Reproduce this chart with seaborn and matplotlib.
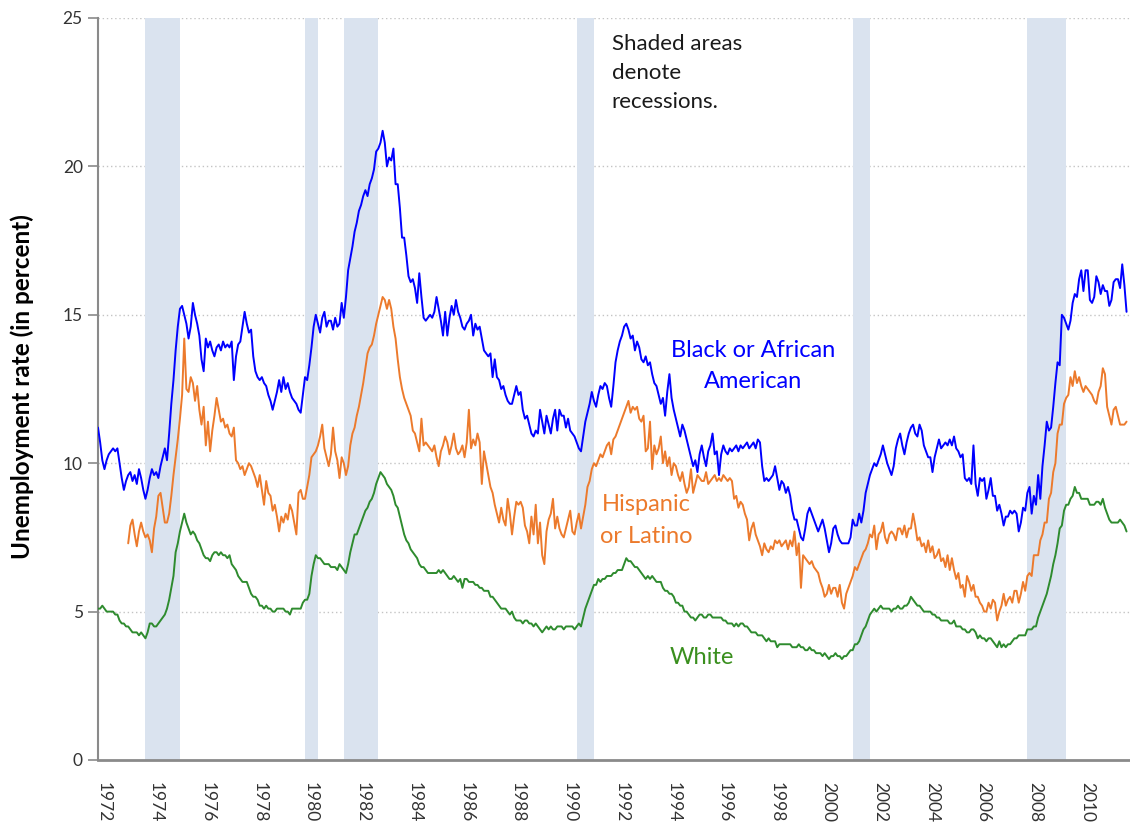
import matplotlib
matplotlib.use("Agg")
import matplotlib.pyplot as plt
import numpy as np
import pandas as pd
import seaborn as sns

# Monthly unemployment rates (percent), seasonally adjusted
# black and white: Jan 1972 - Oct 2011, hispanic: Mar 1973 - Oct 2011
black = [
    11.2, 10.7, 10.1, 9.8, 10.1, 10.3, 10.4, 10.5, 10.4, 10.5, 10.0, 9.5,   # 1972
    9.1, 9.4, 9.6, 9.7, 9.4, 9.6, 9.3, 9.8, 9.5, 9.1, 8.8, 9.1,            # 1973
    9.5, 9.8, 9.6, 9.7, 9.5, 9.9, 10.2, 10.5, 10.1, 11.0, 12.0, 12.8,      # 1974
    13.8, 14.6, 15.2, 15.3, 15.0, 14.7, 14.2, 14.6, 15.4, 15.0, 14.7, 14.3,  # 1975
    13.5, 13.1, 14.2, 13.9, 14.1, 13.8, 13.6, 13.9, 14.0, 13.8, 14.1, 13.9,  # 1976
    14.0, 13.9, 14.1, 12.8, 13.6, 14.0, 14.1, 14.6, 15.1, 14.7, 14.4, 14.5,  # 1977
    13.6, 13.1, 12.9, 12.8, 12.9, 12.7, 12.6, 12.3, 12.1, 11.8, 12.1, 12.4,  # 1978
    12.8, 12.4, 12.9, 12.5, 12.7, 12.4, 12.2, 12.1, 12.0, 11.8, 11.7, 12.3,  # 1979
    12.9, 12.8, 13.3, 13.9, 14.6, 15.0, 14.7, 14.4, 14.9, 15.1, 14.6, 14.8,  # 1980
    14.8, 14.5, 14.9, 14.6, 14.7, 15.4, 14.9, 15.6, 16.5, 16.9, 17.3, 17.8,  # 1981
    18.1, 18.5, 18.7, 19.0, 19.2, 19.0, 19.4, 19.6, 19.9, 20.5, 20.6, 20.8,  # 1982
    21.2, 20.8, 20.0, 20.3, 20.2, 20.6, 19.4, 19.4, 18.6, 17.6, 17.6, 17.0,  # 1983
    16.3, 16.1, 16.2, 15.9, 15.4, 16.4, 15.6, 14.9, 14.8, 14.9, 15.0, 14.9,  # 1984
    15.1, 15.6, 15.2, 14.8, 14.3, 15.1, 14.3, 14.9, 15.3, 15.0, 15.5, 15.1,  # 1985
    14.9, 14.6, 14.5, 14.7, 14.8, 15.0, 14.3, 14.7, 14.5, 14.6, 14.2, 13.8,  # 1986
    13.7, 13.6, 13.7, 12.9, 13.5, 12.9, 12.8, 12.5, 12.6, 12.3, 12.1, 12.0,  # 1987
    12.0, 12.3, 12.6, 12.3, 12.4, 11.8, 11.5, 11.6, 11.3, 11.0, 10.9, 11.1,  # 1988
    11.0, 11.8, 11.4, 11.0, 11.6, 11.3, 11.0, 11.5, 11.8, 11.1, 11.8, 11.6,  # 1989
    11.6, 11.2, 11.5, 11.1, 11.0, 10.9, 10.7, 10.5, 10.4, 10.9, 11.4, 11.7,  # 1990
    12.0, 12.4, 12.1, 11.9, 12.3, 12.6, 12.5, 12.7, 12.6, 12.2, 11.9, 12.6,  # 1991
    13.4, 13.8, 14.1, 14.3, 14.6, 14.7, 14.5, 14.2, 14.3, 13.8, 14.1, 13.9,  # 1992
    13.5, 13.4, 13.6, 13.3, 13.4, 13.0, 12.7, 12.6, 12.3, 12.0, 12.2, 11.6,  # 1993
    12.4, 13.0, 12.2, 11.8, 11.5, 11.2, 10.9, 11.3, 11.1, 10.8, 10.5, 10.2,  # 1994
    9.9, 10.1, 9.7, 10.3, 10.6, 10.2, 9.9, 10.4, 10.6, 11.0, 10.3, 10.4,     # 1995
    9.6, 10.3, 10.6, 10.4, 10.3, 10.5, 10.4, 10.5, 10.6, 10.4, 10.6, 10.5,   # 1996
    10.6, 10.7, 10.5, 10.6, 10.7, 10.5, 10.8, 10.7, 9.9, 9.4, 9.5, 9.4,     # 1997
    9.5, 9.6, 9.9, 9.5, 9.1, 9.4, 9.3, 9.0, 9.2, 8.9, 8.4, 8.1,             # 1998
    8.1, 7.8, 7.5, 7.4, 7.8, 8.3, 8.5, 8.3, 8.1, 7.9, 7.7, 7.9,             # 1999
    8.1, 7.8, 7.4, 7.0, 7.3, 7.8, 7.9, 7.6, 7.4, 7.3, 7.3, 7.3,             # 2000
    7.3, 7.5, 8.1, 7.9, 7.9, 8.3, 8.0, 8.4, 9.0, 9.3, 9.6, 9.8,             # 2001
    10.0, 9.9, 10.1, 10.3, 10.6, 10.3, 10.0, 9.8, 9.6, 9.9, 10.5, 10.8,     # 2002
    11.0, 10.6, 10.3, 10.7, 11.0, 11.2, 11.3, 11.0, 10.9, 11.3, 11.1, 10.6,  # 2003
    10.4, 10.2, 10.2, 9.7, 10.2, 10.5, 10.8, 10.5, 10.6, 10.7, 10.6, 10.8,   # 2004
    10.6, 10.9, 10.5, 10.4, 10.2, 10.3, 9.5, 9.4, 9.5, 9.3, 10.6, 9.3,      # 2005
    8.9, 9.5, 9.4, 9.5, 8.8, 9.1, 9.5, 8.9, 8.9, 8.4, 8.6, 8.3,             # 2006
    7.9, 8.2, 8.2, 8.4, 8.3, 8.4, 8.3, 7.7, 8.0, 8.5, 8.4, 9.0,             # 2007
    9.2, 8.3, 8.9, 8.6, 9.6, 8.8, 9.9, 10.6, 11.4, 11.1, 11.2, 11.9,        # 2008
    12.7, 13.4, 13.3, 15.0, 14.9, 14.7, 14.5, 14.8, 15.4, 15.7, 15.6, 16.2,  # 2009
    16.5, 15.8, 16.5, 16.5, 15.5, 15.4, 15.6, 16.3, 16.1, 15.7, 16.0, 15.8,  # 2010
    15.8, 15.3, 15.5, 16.1, 16.2, 16.2, 15.9, 16.7, 16.0, 15.1,             # 2011
]

white = [
    5.1, 5.1, 5.2, 5.1, 5.0, 5.0, 5.0, 5.0, 4.9, 4.9, 4.7, 4.6,   # 1972
    4.6, 4.5, 4.5, 4.4, 4.3, 4.3, 4.3, 4.2, 4.3, 4.2, 4.1, 4.3,   # 1973
    4.6, 4.6, 4.5, 4.5, 4.6, 4.7, 4.8, 4.9, 5.1, 5.4, 5.8, 6.2,   # 1974
    7.0, 7.3, 7.7, 8.0, 8.3, 8.0, 7.8, 7.6, 7.7, 7.6, 7.4, 7.3,   # 1975
    7.1, 6.9, 6.8, 6.8, 6.7, 6.9, 7.0, 7.0, 6.9, 7.0, 6.9, 6.9,   # 1976
    6.8, 6.9, 6.6, 6.5, 6.4, 6.2, 6.1, 6.0, 6.0, 6.0, 5.8, 5.6,   # 1977
    5.5, 5.5, 5.4, 5.2, 5.2, 5.1, 5.2, 5.1, 5.1, 5.0, 5.0, 5.1,   # 1978
    5.1, 5.1, 5.1, 5.0, 5.0, 4.9, 5.1, 5.1, 5.1, 5.1, 5.1, 5.3,   # 1979
    5.4, 5.4, 5.6, 6.2, 6.6, 6.9, 6.8, 6.8, 6.7, 6.6, 6.6, 6.6,   # 1980
    6.5, 6.5, 6.5, 6.4, 6.6, 6.5, 6.4, 6.3, 6.6, 7.0, 7.3, 7.6,   # 1981
    7.6, 7.8, 8.0, 8.2, 8.4, 8.5, 8.7, 8.8, 9.0, 9.3, 9.5, 9.7,   # 1982
    9.6, 9.5, 9.3, 9.2, 9.1, 8.9, 8.6, 8.5, 8.2, 7.9, 7.6, 7.4,   # 1983
    7.3, 7.1, 7.0, 6.9, 6.8, 6.6, 6.5, 6.5, 6.4, 6.3, 6.3, 6.3,   # 1984
    6.3, 6.3, 6.4, 6.3, 6.4, 6.3, 6.2, 6.1, 6.1, 6.2, 6.1, 6.0,   # 1985
    6.1, 5.8, 6.1, 6.1, 6.0, 6.0, 6.0, 5.9, 5.9, 5.8, 5.8, 5.7,   # 1986
    5.7, 5.7, 5.5, 5.5, 5.4, 5.3, 5.2, 5.1, 5.1, 5.1, 5.0, 4.9,   # 1987
    5.0, 4.8, 4.7, 4.7, 4.7, 4.6, 4.7, 4.7, 4.6, 4.6, 4.5, 4.6,   # 1988
    4.5, 4.4, 4.3, 4.4, 4.5, 4.4, 4.5, 4.4, 4.4, 4.5, 4.5, 4.5,   # 1989
    4.4, 4.5, 4.5, 4.5, 4.5, 4.4, 4.5, 4.6, 4.5, 4.8, 5.1, 5.3,   # 1990
    5.5, 5.7, 5.9, 5.9, 6.1, 6.0, 6.1, 6.1, 6.2, 6.2, 6.2, 6.3,   # 1991
    6.3, 6.4, 6.4, 6.4, 6.6, 6.8, 6.7, 6.7, 6.6, 6.5, 6.5, 6.4,   # 1992
    6.3, 6.2, 6.1, 6.2, 6.1, 6.2, 6.1, 6.0, 6.0, 6.0, 5.8, 5.7,   # 1993
    5.7, 5.6, 5.6, 5.5, 5.3, 5.3, 5.2, 5.2, 5.0, 5.0, 4.9, 4.8,   # 1994
    4.8, 4.7, 4.8, 4.9, 4.9, 4.8, 4.8, 4.9, 4.9, 4.8, 4.8, 4.8,   # 1995
    4.8, 4.8, 4.7, 4.7, 4.6, 4.6, 4.6, 4.5, 4.6, 4.5, 4.6, 4.6,   # 1996
    4.5, 4.5, 4.4, 4.3, 4.3, 4.3, 4.2, 4.2, 4.2, 4.1, 4.0, 4.1,   # 1997
    4.0, 4.0, 4.0, 3.8, 3.9, 3.9, 3.9, 3.9, 3.9, 3.9, 3.8, 3.8,   # 1998
    3.8, 3.9, 3.8, 3.8, 3.7, 3.7, 3.8, 3.7, 3.7, 3.6, 3.6, 3.6,   # 1999
    3.5, 3.6, 3.5, 3.4, 3.5, 3.5, 3.6, 3.5, 3.5, 3.4, 3.5, 3.5,   # 2000
    3.6, 3.7, 3.7, 3.9, 3.9, 4.0, 4.2, 4.4, 4.5, 4.7, 4.9, 5.0,   # 2001
    5.1, 5.0, 5.1, 5.2, 5.1, 5.1, 5.1, 5.1, 5.0, 5.1, 5.1, 5.2,   # 2002
    5.1, 5.1, 5.2, 5.2, 5.3, 5.5, 5.4, 5.3, 5.2, 5.2, 5.1, 5.0,   # 2003
    5.0, 5.0, 5.0, 4.9, 4.9, 4.8, 4.8, 4.7, 4.7, 4.7, 4.7, 4.6,   # 2004
    4.6, 4.7, 4.5, 4.5, 4.5, 4.4, 4.4, 4.3, 4.3, 4.4, 4.4, 4.3,   # 2005
    4.1, 4.2, 4.1, 4.1, 4.0, 4.1, 4.1, 4.0, 3.9, 3.8, 4.0, 3.8,   # 2006
    3.9, 3.8, 3.9, 3.9, 4.0, 4.1, 4.1, 4.2, 4.2, 4.2, 4.2, 4.4,   # 2007
    4.4, 4.4, 4.5, 4.5, 4.8, 5.0, 5.2, 5.4, 5.6, 5.9, 6.2, 6.6,   # 2008
    6.9, 7.3, 7.8, 7.9, 8.4, 8.6, 8.6, 8.8, 8.9, 9.2, 9.0, 9.0,   # 2009
    8.8, 8.8, 8.8, 8.8, 8.6, 8.6, 8.6, 8.7, 8.7, 8.6, 8.8, 8.5,   # 2010
    8.3, 8.1, 8.0, 8.0, 8.0, 8.0, 8.1, 8.0, 7.9, 7.7,             # 2011
]

hispanic = [
    7.3, 7.9, 8.1, 7.6, 7.2, 7.7, 8.0, 7.7, 7.5, 7.6,                 # 1973 (Mar-Dec)
    7.4, 7.0, 7.8, 8.2, 8.9, 9.0, 8.5, 8.0, 8.0, 8.3, 8.9, 9.6,       # 1974
    10.2, 10.8, 11.5, 12.3, 14.2, 12.5, 12.4, 12.9, 12.7, 12.1, 12.6, 11.8,  # 1975
    11.3, 11.9, 10.6, 11.4, 10.4, 11.1, 11.6, 12.2, 11.8, 11.4, 11.5, 11.2,  # 1976
    11.3, 11.0, 10.9, 11.2, 10.1, 10.0, 9.8, 9.9, 9.6, 9.8, 10.0, 9.9,      # 1977
    9.7, 9.5, 9.2, 9.6, 9.1, 8.6, 9.4, 9.0, 8.9, 8.4, 8.6, 8.2,             # 1978
    7.7, 8.2, 8.0, 8.3, 8.1, 8.6, 8.4, 8.0, 7.6, 9.0, 9.1, 8.8,             # 1979
    8.8, 9.2, 9.6, 10.2, 10.3, 10.4, 10.6, 10.9, 11.3, 10.5, 10.2, 9.9,     # 1980
    10.3, 11.2, 10.4, 10.1, 9.5, 10.2, 10.0, 9.6, 9.9, 10.6, 11.0, 11.2,    # 1981
    11.6, 11.9, 12.3, 12.7, 13.2, 13.7, 13.9, 14.0, 14.3, 14.7, 15.0, 15.3,  # 1982
    15.6, 15.5, 15.2, 15.5, 15.2, 14.6, 14.2, 13.5, 12.9, 12.5, 12.2, 12.0,  # 1983
    11.8, 11.6, 11.1, 11.0, 10.7, 10.4, 11.5, 10.6, 10.7, 10.6, 10.5, 10.4,  # 1984
    10.6, 10.2, 9.9, 10.4, 10.6, 10.9, 10.7, 10.3, 10.6, 11.0, 10.5, 10.3,   # 1985
    10.4, 10.6, 10.2, 10.7, 11.8, 10.5, 10.8, 10.6, 11.0, 10.7, 9.3, 10.4,   # 1986
    10.0, 9.6, 9.2, 9.0, 8.6, 8.3, 8.0, 8.5, 8.1, 7.9, 8.8, 8.3,            # 1987
    7.6, 8.2, 8.7, 8.6, 8.7, 8.5, 7.9, 7.7, 7.3, 8.2, 7.6, 8.6,             # 1988
    7.3, 8.0, 6.9, 6.6, 7.7, 8.1, 8.3, 8.8, 7.8, 8.2, 7.8, 7.6,             # 1989
    7.5, 7.8, 8.1, 8.4, 7.7, 7.6, 8.0, 8.3, 7.8, 8.2, 8.6, 9.2,             # 1990
    9.4, 9.8, 10.0, 9.9, 10.1, 10.3, 10.2, 10.4, 10.6, 10.7, 10.3, 10.8,    # 1991
    10.9, 11.1, 11.3, 11.5, 11.7, 11.9, 12.1, 11.7, 11.9, 11.8, 11.9, 11.5,  # 1992
    11.4, 11.6, 10.4, 10.5, 11.4, 9.8, 10.6, 10.3, 10.5, 10.9, 10.0, 10.4,   # 1993
    9.9, 10.2, 9.6, 10.0, 9.9, 9.6, 9.4, 9.7, 9.3, 9.0, 9.2, 9.8,           # 1994
    9.0, 9.3, 9.6, 9.5, 9.4, 9.4, 9.7, 9.3, 9.4, 9.5, 9.6, 9.4,             # 1995
    9.5, 9.4, 9.6, 9.5, 9.4, 9.5, 9.4, 8.8, 8.9, 8.5, 8.7, 8.6,             # 1996
    8.3, 8.1, 7.4, 7.8, 8.0, 7.6, 7.4, 7.2, 6.9, 7.3, 7.1, 7.0,             # 1997
    7.2, 7.1, 7.4, 7.3, 7.4, 7.2, 7.3, 7.4, 7.1, 7.4, 7.2, 7.7,             # 1998
    6.9, 7.3, 5.8, 6.9, 6.8, 6.7, 6.6, 6.7, 6.5, 6.4, 6.3, 6.0,             # 1999
    5.8, 5.5, 5.6, 5.9, 5.6, 5.8, 5.8, 5.5, 5.9, 5.3, 5.1, 5.6,             # 2000
    5.8, 6.0, 6.2, 6.5, 6.4, 6.6, 6.8, 7.0, 7.1, 7.3, 7.6, 7.5,             # 2001
    7.9, 7.1, 7.6, 7.7, 8.0, 7.5, 7.3, 7.6, 7.7, 7.6, 7.4, 7.8,             # 2002
    7.8, 7.6, 7.9, 7.5, 7.8, 7.8, 8.3, 7.9, 7.4, 7.5, 7.2, 7.3,             # 2003
    7.0, 7.4, 7.0, 7.2, 6.8, 6.9, 7.1, 6.7, 6.8, 6.5, 6.9, 6.4,             # 2004
    6.8, 6.4, 6.1, 6.3, 5.8, 5.9, 5.5, 6.2, 6.0, 5.7, 5.9, 5.5,             # 2005
    5.5, 5.3, 5.2, 5.0, 5.0, 5.3, 5.1, 5.4, 5.3, 4.7, 5.0, 5.2,             # 2006
    5.6, 5.2, 5.4, 5.5, 5.3, 5.7, 5.7, 5.3, 5.6, 6.0, 5.7, 6.2,             # 2007
    6.3, 6.2, 6.9, 6.9, 6.9, 7.4, 7.6, 8.0, 8.0, 8.8, 9.0, 9.7,             # 2008
    10.0, 11.0, 11.3, 11.3, 12.0, 12.2, 12.3, 12.9, 12.6, 13.1, 12.7, 12.9,  # 2009
    12.6, 12.4, 12.6, 12.5, 12.4, 12.3, 12.1, 12.0, 12.4, 12.6, 13.2, 13.0,  # 2010
    11.9, 11.6, 11.3, 11.8, 11.9, 11.6, 11.3, 11.3, 11.3, 11.4,             # 2011
]

# NBER recessions (peak month, trough month)
recessions = [("1973-11", "1975-03"), ("1980-01", "1980-07"), ("1981-07", "1982-11"),
              ("1990-07", "1991-03"), ("2001-03", "2001-11"), ("2007-12", "2009-06")]

tick_years = list(range(1972, 2011, 2))


def to_year(s):
    y, m = s.split("-")
    return int(y) + (int(m) - 1) / 12


t_bw = 1972 + np.arange(len(black)) / 12
t_h = 1973 + (2 + np.arange(len(hispanic))) / 12

df = pd.concat([
    pd.DataFrame({"t": t_bw, "rate": black, "group": "black"}),
    pd.DataFrame({"t": t_h, "rate": hispanic, "group": "hispanic"}),
    pd.DataFrame({"t": t_bw, "rate": white, "group": "white"}),
])

sns.set_theme(style="white")
plt.rcParams["font.family"] = ["Lato", "DejaVu Sans"]

colors = {"black": "#0000ff", "hispanic": "#ec7a2c", "white": "#2e8b2e"}

fig = plt.figure(figsize=(11.3, 8.27), dpi=100)
ax = fig.add_axes([98 / 1130, 1 - 760 / 827, 1 - 98 / 1130, (760 - 18) / 827])

for start, end in recessions:
    ax.axvspan(to_year(start), to_year(end), color="#dae3ef", lw=0, zorder=1)

sns.lineplot(data=df, x="t", y="rate", hue="group", palette=colors, lw=1.4,
             legend=False, ax=ax, zorder=3)

ax.set_xlim(1972, 1972 + 478 / 12 + 0.05)
ax.set_ylim(0, 25)
ax.set_yticks(range(0, 26, 5))
for y in range(5, 26, 5):
    ax.axhline(y, color="#c4c4c4", ls=(0, (1, 2)), lw=1, zorder=0.5)

ax.set_xticks([y + 0.23 for y in tick_years])
ax.set_xticklabels([str(y) for y in tick_years], rotation=270, fontsize=12.5, color="#333333")
ax.tick_params(axis="x", length=0, pad=16)
ax.tick_params(axis="y", length=7, width=1.2, color="#8a8a8a", direction="out",
               labelsize=12.5, labelcolor="#333333", pad=4, left=True)

for side in ["top", "right"]:
    ax.spines[side].set_visible(False)
ax.spines["left"].set_color("#8a8a8a")
ax.spines["left"].set_linewidth(1.5)
ax.spines["bottom"].set_color("#8a8a8a")
ax.spines["bottom"].set_linewidth(2)
ax.set_xlabel("")
ax.set_ylabel("")

fig.text(22 / 1130, 1 - 387 / 827, "Unemployment rate (in percent)", rotation=90,
         ha="center", va="center", fontsize=17.5, fontweight="bold", color="#000000")

ax.text(1997.3, 13.27, "Black or African\nAmerican", color="#0000ff", fontsize=17,
        ha="center", va="center", linespacing=1.6, zorder=4)
ax.text(1993.18, 8.08, "Hispanic\nor Latino", color="#ec7a2c", fontsize=17,
        ha="center", va="center", linespacing=1.65, zorder=4)
ax.text(1995.32, 3.47, "White", color="#3a8f1e", fontsize=17,
        ha="center", va="center", zorder=4)
ax.text(1991.85, 24.45, "Shaded areas\ndenote\nrecessions.", color="#1a1a1a", fontsize=16,
        ha="left", va="top", linespacing=1.55, zorder=4)

fig.savefig("out.png", dpi=100)
